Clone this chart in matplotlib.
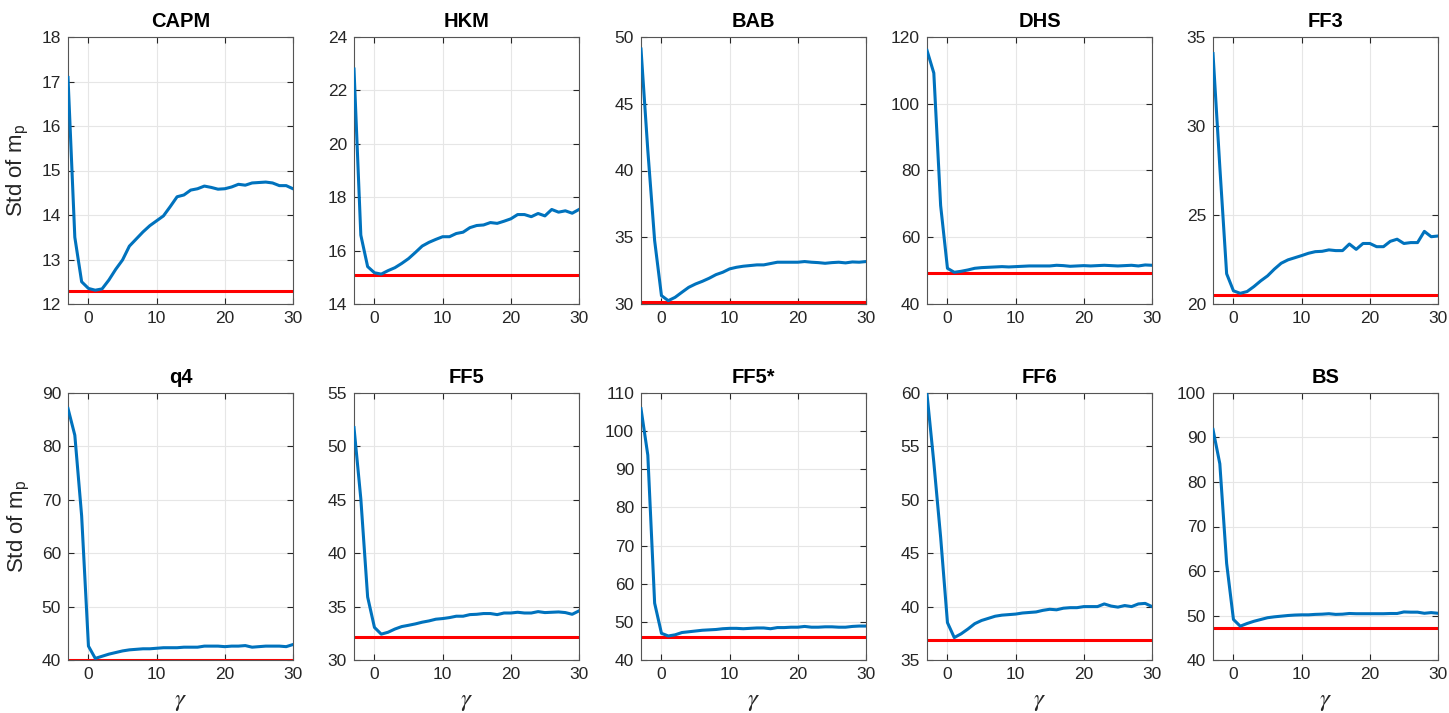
import numpy as np
import matplotlib
matplotlib.use("Agg")
import matplotlib.pyplot as plt

plt.rcParams['font.family'] = ['Liberation Sans', 'DejaVu Sans']
plt.rcParams['mathtext.fontset'] = 'stix'

gamma = list(range(-3, 31))

titles = ["CAPM", "HKM", "BAB", "DHS", "FF3", "q4", "FF5", "FF5*", "FF6", "BS"]

capm = [17.09, 13.5, 12.5, 12.35, 12.31, 12.34, 12.54, 12.78, 12.99, 13.3, 13.46, 13.62, 13.76,
        13.87, 13.98, 14.19, 14.41, 14.45, 14.56, 14.59, 14.65, 14.62, 14.58, 14.59, 14.63, 14.69,
        14.67, 14.72, 14.73, 14.74, 14.72, 14.66, 14.66, 14.59]
hkm = [22.8, 16.58, 15.4, 15.17, 15.12, 15.25, 15.36, 15.52, 15.7, 15.93, 16.17, 16.31, 16.42,
       16.52, 16.52, 16.64, 16.69, 16.86, 16.94, 16.96, 17.05, 17.02, 17.1, 17.19, 17.35, 17.35,
       17.27, 17.39, 17.3, 17.54, 17.44, 17.49, 17.4, 17.54]
bab = [49.1, 41.5, 34.75, 30.63, 30.25, 30.5, 30.88, 31.25, 31.5, 31.7, 31.93, 32.2, 32.38,
       32.63, 32.75, 32.83, 32.88, 32.93, 32.93, 33.03, 33.13, 33.13, 33.13, 33.13, 33.18, 33.13,
       33.1, 33.05, 33.1, 33.13, 33.08, 33.15, 33.13, 33.18]
dhs = [116.0, 109.2, 69.5, 50.7, 49.5, 49.8, 50.2, 50.7, 50.9, 51.0, 51.1, 51.2, 51.1,
       51.2, 51.3, 51.4, 51.4, 51.4, 51.4, 51.6, 51.5, 51.3, 51.4, 51.5, 51.4, 51.5,
       51.6, 51.5, 51.4, 51.5, 51.6, 51.4, 51.7, 51.6]
ff3 = [34.07, 27.7, 21.7, 20.74, 20.6, 20.7, 20.98, 21.3, 21.58, 21.96, 22.29, 22.48, 22.6,
       22.72, 22.85, 22.94, 22.96, 23.04, 23.0, 23.0, 23.37, 23.07, 23.4, 23.4, 23.22, 23.22,
       23.52, 23.64, 23.4, 23.45, 23.45, 24.08, 23.78, 23.82]
q4 = [87.1, 82.1, 67.0, 42.6, 40.3, 40.7, 41.1, 41.4, 41.7, 41.9, 42.0, 42.1, 42.1,
      42.2, 42.3, 42.3, 42.3, 42.4, 42.4, 42.4, 42.6, 42.6, 42.6, 42.5, 42.6, 42.6,
      42.7, 42.4, 42.5, 42.6, 42.6, 42.6, 42.5, 42.9]
ff5 = [51.76, 45.1, 35.9, 33.05, 32.42, 32.6, 32.9, 33.13, 33.25, 33.38, 33.54, 33.66, 33.82,
       33.88, 33.97, 34.1, 34.1, 34.25, 34.28, 34.35, 34.35, 34.25, 34.4, 34.4, 34.47, 34.4,
       34.4, 34.53, 34.44, 34.47, 34.5, 34.44, 34.28, 34.6]
ff5s = [105.9, 93.7, 54.9, 47.0, 46.3, 46.6, 47.2, 47.4, 47.6, 47.8, 47.9, 48.0, 48.2,
        48.3, 48.3, 48.2, 48.3, 48.4, 48.4, 48.2, 48.5, 48.5, 48.6, 48.6, 48.8, 48.6,
        48.6, 48.7, 48.7, 48.6, 48.6, 48.8, 48.9, 48.9]
ff6 = [59.9, 53.5, 46.5, 38.5, 37.1, 37.45, 37.9, 38.4, 38.7, 38.9, 39.1, 39.2, 39.25,
       39.3, 39.4, 39.45, 39.5, 39.65, 39.75, 39.7, 39.85, 39.9, 39.9, 40.0, 40.0, 40.0,
       40.25, 40.05, 39.95, 40.1, 40.0, 40.25, 40.3, 40.0]
bs = [91.8, 84.1, 61.7, 49.1, 47.6, 48.2, 48.7, 49.1, 49.5, 49.7, 49.85, 50.0, 50.1,
      50.15, 50.15, 50.25, 50.3, 50.4, 50.25, 50.3, 50.45, 50.4, 50.4, 50.4, 50.4, 50.4,
      50.45, 50.45, 50.8, 50.75, 50.75, 50.5, 50.65, 50.5]

series = [capm, hkm, bab, dhs, ff3, q4, ff5, ff5s, ff6, bs]
benchmarks = [12.29, 15.07, 30.13, 49.2, 20.53, 40.0, 32.2, 45.9, 36.83, 47.2]
ylims = [(12, 18), (14, 24), (30, 50), (40, 120), (20, 35),
         (40, 90), (30, 55), (40, 110), (35, 60), (40, 100)]
yticks = [np.arange(12, 19, 1), np.arange(14, 25, 2), np.arange(30, 51, 5), np.arange(40, 121, 20),
          np.arange(20, 36, 5), np.arange(40, 91, 10), np.arange(30, 56, 5), np.arange(40, 111, 10),
          np.arange(35, 61, 5), np.arange(40, 101, 10)]
xticks = [0, 10, 20, 30]

W, H = 1449, 713
fig = plt.figure(figsize=(W / 100, H / 100), dpi=100)
lefts = [68, 354, 641, 927, 1213]
tops = [37, 393]
aw, ah = 225, 267
txtc = '#262626'

for i in range(10):
    r, c = divmod(i, 5)
    ax = fig.add_axes([lefts[c] / W, 1 - (tops[r] + ah) / H, aw / W, ah / H])
    ax.plot(gamma, series[i], color='#0072BD', lw=2.2, zorder=3)
    ax.axhline(benchmarks[i], color='#FF0000', lw=2.2, zorder=2)
    ax.set_xlim(-3, 30)
    ax.set_ylim(*ylims[i])
    ax.set_xticks(xticks)
    ax.set_yticks(yticks[i])
    ax.grid(True, color='#e6e6e6', lw=0.8)
    ax.set_axisbelow(True)
    ax.tick_params(direction='in', length=4, width=0.8, colors='#262626',
                   labelsize=12.5, top=True, right=True, pad=5)
    for s in ax.spines.values():
        s.set_color('#555555')
        s.set_linewidth(0.8)
    ax.set_title(titles[i], fontsize=14.5, fontweight='bold', pad=7)
    if c == 0:
        ax.set_ylabel('Std of m$_\\mathregular{p}$', fontsize=16, color=txtc, labelpad=8)
    if r == 1:
        ax.set_xlabel('$\\gamma$', fontsize=18, color=txtc, labelpad=5)

fig.savefig('out.png', dpi=100)
